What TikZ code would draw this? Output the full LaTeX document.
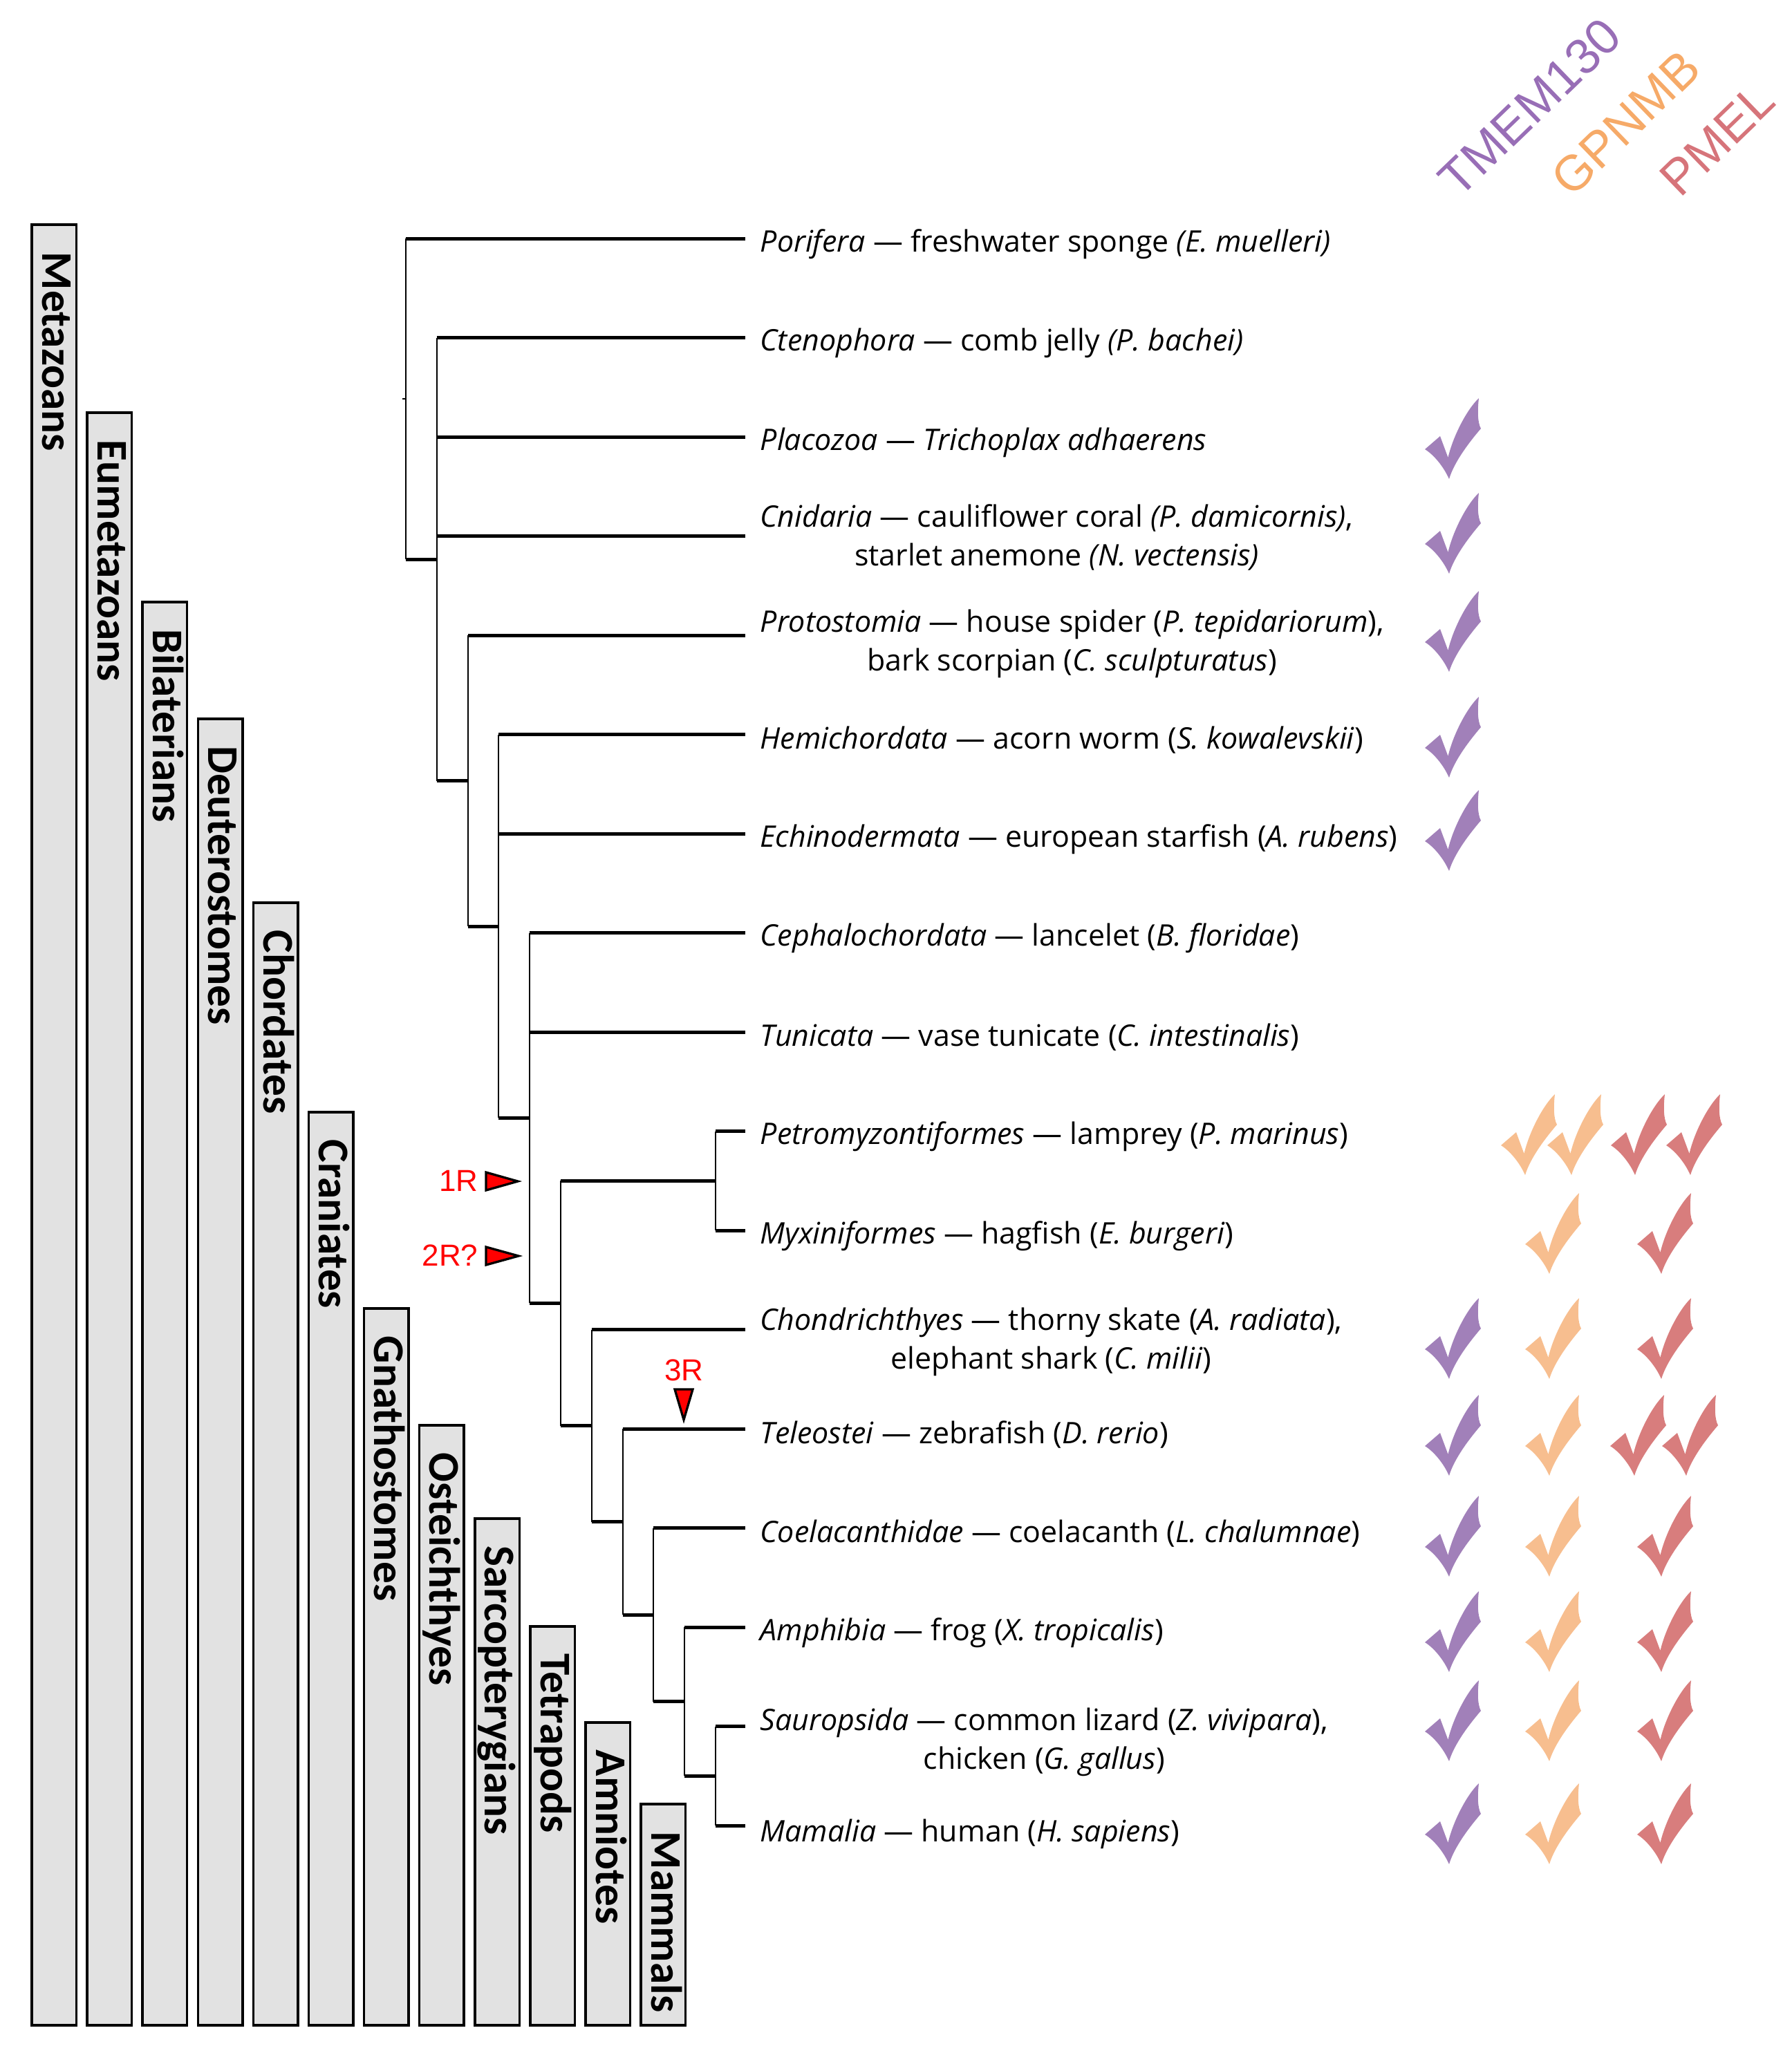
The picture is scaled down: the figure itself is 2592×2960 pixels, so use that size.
\documentclass[tikz,border=0pt]{standalone}
\usepackage{fontspec}
\setmainfont{Open Sans}
\newfontfamily\cladefont{Carlito}
\newfontfamily\genefont{Liberation Sans}
\usetikzlibrary{positioning}
\definecolor{barfill}{RGB}{226,226,226}
\definecolor{tmemck}{RGB}{161,128,185}
\definecolor{gpnmbck}{RGB}{247,190,143}
\definecolor{pmelck}{RGB}{216,125,125}
\definecolor{tmemtx}{RGB}{152,110,182}
\definecolor{gpnmbtx}{RGB}{246,170,104}
\definecolor{pmeltx}{RGB}{214,116,122}

\begin{document}
\begin{tikzpicture}[
x=0.01cm, y=-0.01cm,
hline/.style={line width=0.05cm},
vline/.style={line width=0.025cm},
cladebar/.style={draw=black, fill=barfill, line width=0.035cm},
cladename/.style={rotate=-90, anchor=west, inner sep=0pt, text height=11.6pt, text depth=0pt,
  font=\cladefont\bfseries\fontsize{18}{20}\selectfont},
taxon/.style={inner sep=0pt, align=center, yshift=-0.08cm, font=\fontsize{12.2}{15.9}\selectfont},
gene/.style={rotate=44, anchor=base west, inner sep=0pt, font=\genefont\fontsize{20.5}{24}\selectfont},
dup/.style={draw=black, fill=red, line width=0.033cm, line join=miter},
duptext/.style={text=red, inner sep=0pt, font=\genefont\fontsize{12.5}{14}\selectfont},
tick/.pic={
  \fill (0,0) .. controls (6,-20) and (22,-45) .. (46,-73)
    .. controls (41,-82) and (41,-100) .. (43,-117)
    .. controls (25,-100) and (5,-60) .. (-1.5,-31)
    -- (-13,-62) -- (-35,-43)
    .. controls (-22,-35) and (-8,-18) .. (0,0) -- cycle;
}
]
\useasboundingbox (0,0) rectangle (2592,2960);

% clade bars
\foreach \name/\top [count=\i from 0] in {Metazoans/325, Eumetazoans/597, Bilaterians/871,
    Deuterostomes/1040, Chordates/1306, Craniates/1609, Gnathostomes/1893, Osteichthyes/2062,
    Sarcopterygians/2197, Tetrapods/2353, Amniotes/2492, Mammals/2610}
{
  \draw[cladebar] ({46+80.1*\i},\top) rectangle ({110.5+80.1*\i},2930);
  \node[cladename] (clade\i) at ({81.5+80.1*\i},{\top+39}) {\name};
}

% internal nodes
\coordinate (root) at (587,577);
\coordinate (eumet) at (632,809);
\coordinate (bilat) at (677,1129.5);
\coordinate (deut) at (721,1340);
\coordinate (chord) at (766,1617.4);
\coordinate (cran) at (811,1885.4);
\coordinate (cyclo) at (1035,1708.25);
\coordinate (gnath) at (856,2062.5);
\coordinate (oste) at (901,2201.5);
\coordinate (sarc) at (945,2336.1);
\coordinate (tetra) at (990,2461.6);
\coordinate (amnio) at (1035,2569.25);

% leaf tips
\coordinate (porifera) at (1078,345);
\coordinate (cteno) at (1078,488.5);
\coordinate (placo) at (1078,632);
\coordinate (cnid) at (1078,775.5);
\coordinate (proto) at (1078,919);
\coordinate (hemi) at (1078,1062.5);
\coordinate (echino) at (1078,1206);
\coordinate (cephalo) at (1078,1349.5);
\coordinate (tunic) at (1078,1493);
\coordinate (petro) at (1078,1636.5);
\coordinate (myxi) at (1078,1780);
\coordinate (chondr) at (1078,1923.5);
\coordinate (teleo) at (1078,2067);
\coordinate (coela) at (1078,2210.5);
\coordinate (amph) at (1078,2354);
\coordinate (sauro) at (1078,2497.5);
\coordinate (mamal) at (1078,2641);

% branches
\draw[vline] (root) -- ++(-5,0);
\foreach \p/\c in {root/porifera, root/eumet, eumet/cteno, eumet/placo, eumet/cnid, eumet/bilat,
    bilat/proto, bilat/deut, deut/hemi, deut/echino, deut/chord, chord/cephalo, chord/tunic,
    chord/cran, cran/cyclo, cran/gnath, cyclo/petro, cyclo/myxi, gnath/chondr, gnath/oste,
    oste/teleo, oste/sarc, sarc/coela, sarc/tetra, tetra/amph, tetra/amnio, amnio/sauro, amnio/mamal}
{
  \draw[vline] (\p) -- (\p |- \c);
  \draw[hline] (\p |- \c) -- (\c);
}

% taxa
\node[taxon, right=0.21cm of porifera] (porifera-lab) {\textit{Porifera} — freshwater sponge \textit{(E. muelleri)}};
\node[taxon, right=0.21cm of cteno] (cteno-lab) {\textit{Ctenophora} — comb jelly \textit{(P. bachei)}};
\node[taxon, right=0.21cm of placo] (placo-lab) {\textit{Placozoa} — \textit{Trichoplax adhaerens}};
\node[taxon, right=0.21cm of cnid, yshift=0.06cm] (cnid-lab) {\textit{Cnidaria} — cauliflower coral \textit{(P. damicornis)},\\starlet anemone \textit{(N. vectensis)}};
\node[taxon, right=0.21cm of proto, yshift=-0.04cm] (proto-lab) {\textit{Protostomia} — house spider (\textit{P. tepidariorum}),\\bark scorpian (\textit{C. sculpturatus})};
\node[taxon, right=0.21cm of hemi] (hemi-lab) {\textit{Hemichordata} — acorn worm (\textit{S. kowalevskii})};
\node[taxon, right=0.21cm of echino] (echino-lab) {\textit{Echinodermata} — european starfish (\textit{A. rubens})};
\node[taxon, right=0.21cm of cephalo] (cephalo-lab) {\textit{Cephalochordata} — lancelet (\textit{B. floridae})};
\node[taxon, right=0.21cm of tunic] (tunic-lab) {\textit{Tunicata} — vase tunicate (\textit{C. intestinalis})};
\node[taxon, right=0.21cm of petro] (petro-lab) {\textit{Petromyzontiformes} — lamprey (\textit{P. marinus})};
\node[taxon, right=0.21cm of myxi] (myxi-lab) {\textit{Myxiniformes} — hagfish (\textit{E. burgeri})};
\node[taxon, right=0.21cm of chondr, yshift=-0.1cm] (chondr-lab) {\textit{Chondrichthyes} — thorny skate (\textit{A. radiata}),\\elephant shark (\textit{C. milii})};
\node[taxon, right=0.21cm of teleo] (teleo-lab) {\textit{Teleostei} — zebrafish (\textit{D. rerio})};
\node[taxon, right=0.21cm of coela] (coela-lab) {\textit{Coelacanthidae} — coelacanth (\textit{L. chalumnae})};
\node[taxon, right=0.21cm of amph] (amph-lab) {\textit{Amphibia} — frog (\textit{X. tropicalis})};
\node[taxon, right=0.21cm of sauro, yshift=-0.15cm] (sauro-lab) {\textit{Sauropsida} — common lizard (\textit{Z. vivipara}),\\chicken (\textit{G. gallus})};
\node[taxon, right=0.21cm of mamal, yshift=-0.04cm] (mamal-lab) {\textit{Mamalia} — human (\textit{H. sapiens})};

% duplication markers
\draw[dup] (703,1696) -- (749,1709) -- (703,1722) -- cycle;
\draw[dup] (703,1804) -- (750,1817) -- (703,1830) -- cycle;
\draw[dup] (976,2010) -- (1002,2010) -- (989,2054) -- cycle;
\node[duptext, anchor=east] (r1) at (692,1708) {1R};
\node[duptext, anchor=east] (r2) at (692,1816) {2R?};
\node[duptext, anchor=south] (r3) at (989.5,1999) {3R};

% genes
\node[gene, text=tmemtx] (tmem) at (2110,289) {TMEM130};
\node[gene, text=gpnmbtx] (gpnmb) at (2273,288) {GPNMB};
\node[gene, text=pmeltx] (pmel) at (2430,288) {PMEL};

% presence ticks
\foreach \col/\x/\y in {tmemck/2096/693, tmemck/2096/830, tmemck/2096/972, tmemck/2096/1125,
    tmemck/2096/1260, tmemck/2096/1995, tmemck/2096/2135, tmemck/2096/2281, tmemck/2096/2419,
    tmemck/2096/2548, tmemck/2096/2697,
    gpnmbck/2206/1700, gpnmbck/2273/1700, gpnmbck/2241/1843, gpnmbck/2241/1995, gpnmbck/2241/2135,
    gpnmbck/2241/2281, gpnmbck/2241/2419, gpnmbck/2241/2548, gpnmbck/2241/2697,
    pmelck/2365/1700, pmelck/2445/1700, pmelck/2403/1843, pmelck/2403/1995, pmelck/2364/2135,
    pmelck/2439/2135, pmelck/2403/2281, pmelck/2403/2419, pmelck/2403/2548, pmelck/2403/2697}
  \pic[color=\col] at (\x,\y) {tick};
\end{tikzpicture}
\end{document}
